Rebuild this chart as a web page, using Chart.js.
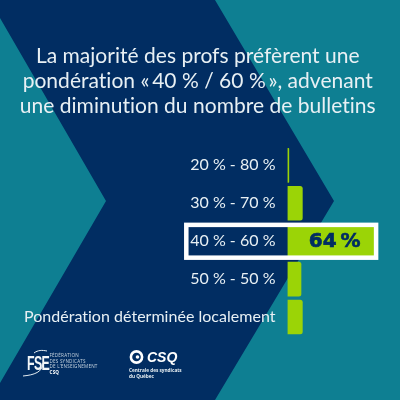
<!DOCTYPE html>
<html lang="fr"><head><meta charset="utf-8">
<script src="https://cdn.jsdelivr.net/npm/chart.js@4"></script>
<style>
html,body{margin:0;padding:0;background:#0e7f92;width:400px;height:400px;overflow:hidden}
#wrap{position:relative;width:400px;height:400px}
canvas{position:absolute;left:0;top:0}
.t{position:absolute;color:#e6eef2;font-family:"Open Sans",sans-serif;white-space:nowrap}
</style></head><body>
<div id="wrap"><canvas id="c" width="400" height="400"></canvas>
<svg style="position:absolute;left:0;top:0" width="400" height="400">
<path d="M23 376 C34 375 43 372 43 363" fill="none" stroke="#e6eef2" stroke-width="1"/>
<path d="M34 353 C38 350 42 350 47 351" fill="none" stroke="#e6eef2" stroke-width="1"/>
<circle cx="136.5" cy="357" r="5.6" fill="none" stroke="#fff" stroke-width="2.6"/>
<circle cx="137.5" cy="357" r="1.8" fill="#fff"/>
</svg>
<div class="t" style="left:27px;top:353px;font:bold 20px/20px 'Liberation Sans';letter-spacing:-1px;color:#f2f6f8;transform:scaleX(.62);transform-origin:0 0">FSE</div>
<div class="t" style="left:49.5px;top:353px;font-size:4.6px;line-height:5.7px;letter-spacing:.2px;color:#c9d6e0">FÉDÉRATION<br>DES SYNDICATS<br>DE L’ENSEIGNEMENT<br><b style="color:#fff">CSQ</b></div>
<div class="t" style="left:147px;top:349px;font:italic bold 14px/16px 'Liberation Sans';color:#fff">CSQ</div>
<div class="t" style="left:129px;top:367px;font-size:4.7px;line-height:6.4px;font-weight:700;color:#e6eef2">Centrale des syndicats<br>du Québec</div>
</div>
<script>
const categories = ["20 % - 80 %", "30 % - 70 %", "40 % - 60 %", "50 % - 50 %", "Pondération déterminée localement"];
const values = [1, 11, 64, 10, 11];
const highlightIndex = 2;
const titleLines = ["La majorité des profs préfèrent une", "pondération «\u200940 % / 60 %\u2009», advenant", "une diminution du nombre de bulletins"];

const TEAL = "#0e7f92", NAVY = "#012d62", LIME = "#9bd406";

const backdrop = {
  id: "backdrop",
  beforeDraw(chart) {
    const g = chart.ctx;
    g.save();
    g.fillStyle = TEAL; g.fillRect(0, 0, 400, 400);
    g.fillStyle = NAVY;
    g.beginPath();
    [[0,0],[215,0],[334,201],[215,400],[0,400],[0,383],[106,201],[0,18]].forEach((p, i) => i ? g.lineTo(p[0], p[1]) : g.moveTo(p[0], p[1]));
    g.closePath(); g.fill();
    g.restore();
    g.letterSpacing = "0.02px";
  }
};
const highlight = {
  id: "highlight",
  afterDatasetsDraw(chart) {
    const g = chart.ctx, x = chart.scales.x, y = chart.scales.y;
    const cy = y.getPixelForValue(highlightIndex), x1 = x.getPixelForValue(values[highlightIndex]);
    g.save();
    g.strokeStyle = "#ffffff"; g.lineWidth = 4.5;
    g.strokeRect(186.3, cy - 16.3, x1 + 2.2 - 186.3, 32.8);
    g.fillStyle = NAVY; g.textAlign = "center"; g.textBaseline = "middle";
    g.font = "bold 20px 'DejaVu Sans'";
    g.strokeStyle = NAVY; g.lineWidth = 0.6;
    const label = values[highlightIndex] + "\u2009%", lx = (x.getPixelForValue(0) + x1) / 2 + 4;
    g.fillText(label, lx, cy + 0.5);
    g.strokeText(label, lx, cy + 0.5);
    g.restore();
  }
};
new Chart(document.getElementById("c"), {
  type: "bar",
  data: { labels: categories, datasets: [{ data: values, backgroundColor: LIME, barThickness: 34, borderRadius: { topRight: 2.5, bottomRight: 2.5 }, borderSkipped: false }] },
  options: {
    indexAxis: "y", responsive: false, animation: false, devicePixelRatio: 1,
    layout: { padding: { left: 0, right: 4.5, top: 0, bottom: 64 } },
    scales: {
      x: { display: false, min: 0, max: 80 },
      y: {
        grid: { display: false }, border: { display: false },
        afterFit(s) { s.width = 287.5; },
        ticks: { color: "#e8f0f4", font: { family: "'Lato'", size: 16 }, padding: 4, autoSkip: false }
      }
    },
    plugins: {
      legend: { display: false }, tooltip: { enabled: false },
      title: { display: true, text: titleLines, color: "#e8f0f4", font: { family: "'Lato'", size: 21, weight: "400", lineHeight: 1.18 }, padding: { top: 44, bottom: 28 } }
    }
  },
  plugins: [backdrop, highlight]
});
</script></body></html>
